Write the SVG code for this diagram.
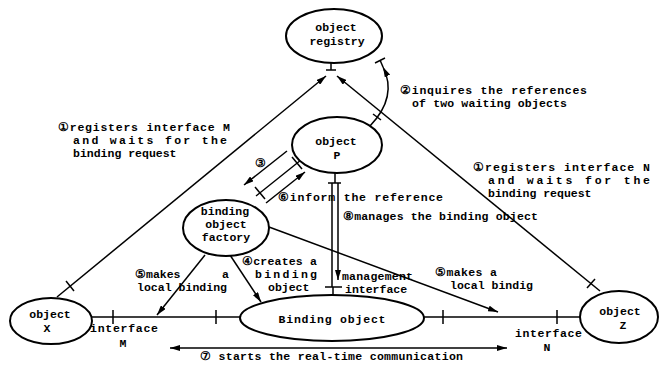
<svg xmlns="http://www.w3.org/2000/svg" width="659" height="365" viewBox="0 0 659 365">
<style>
text{font-family:"Liberation Mono","DejaVu Sans Mono",monospace;font-weight:bold;font-size:11.5px;fill:#000}
.c{text-anchor:middle}
.n{fill:#fff;stroke:#000;stroke-width:2}
.l{fill:none;stroke:#000;stroke-width:1.5}
.a{fill:none;stroke:#000;stroke-width:1.5;marker-end:url(#ah)}
</style>
<defs>
<marker id="ah" viewBox="0 0 10 6" refX="10" refY="3" markerWidth="10" markerHeight="6" orient="auto-start-reverse" markerUnits="userSpaceOnUse"><path d="M0,0 L10,3 L0,6 z" fill="#000"/></marker>
</defs>
<rect width="659" height="365" fill="#fff"/>
<g id="connectors">
<line class="a" x1="57" y1="297" x2="326" y2="76"/>
<line class="a" x1="600" y1="291" x2="337" y2="76"/>
<line class="l" x1="331" y1="63" x2="331" y2="70"/>
<line class="l" x1="326" y1="70" x2="336" y2="70"/>
<line class="l" x1="66" y1="281" x2="74" y2="291"/>
<line class="l" x1="595" y1="279" x2="587" y2="288"/>
<path class="a" d="M370,126 C390,105 392,85 383,67"/>
<line class="l" x1="383" y1="67" x2="380" y2="60"/>
<line class="l" x1="373" y1="114" x2="381" y2="120"/>
<line class="l" x1="375" y1="63" x2="385" y2="58"/>
<line class="l" x1="301" y1="160" x2="256" y2="196"/>
<line class="l" x1="292" y1="157" x2="302" y2="169"/>
<line class="l" x1="255" y1="187" x2="265" y2="199"/>
<line class="a" x1="287" y1="151" x2="244" y2="185"/>
<line class="a" x1="266" y1="203" x2="305" y2="172"/>
<line class="l" x1="335" y1="173" x2="335" y2="183"/>
<line class="l" x1="328" y1="183" x2="341" y2="183"/>
<line class="l" x1="332" y1="183" x2="332" y2="287"/>
<line class="a" x1="338" y1="183" x2="338" y2="280"/>
<line class="l" x1="325" y1="287" x2="342" y2="287"/>
<line class="l" x1="333" y1="287" x2="333" y2="295"/>
<line class="a" x1="230" y1="255" x2="261" y2="302"/>
<line class="a" x1="205" y1="255" x2="157" y2="315"/>
<line class="a" x1="269" y1="227" x2="498" y2="312"/>
<line class="l" x1="92" y1="317" x2="240" y2="317"/>
<line class="l" x1="424" y1="317" x2="580" y2="317"/>
<line class="l" x1="113" y1="310" x2="113" y2="324"/>
<line class="l" x1="216" y1="310" x2="216" y2="324"/>
<line class="l" x1="443" y1="310" x2="443" y2="324"/>
<line class="l" x1="557" y1="310" x2="557" y2="324"/>
<line class="l" x1="170" y1="348" x2="507" y2="348" marker-start="url(#ah)" marker-end="url(#ah)"/>
</g>
<g id="registry">
<ellipse class="n" cx="334" cy="36" rx="48" ry="27"/>
<text class="c" x="336" y="31">object</text>
<text class="c" x="337" y="45">registry</text>
</g>
<g id="objectP">
<ellipse class="n" cx="337" cy="145" rx="45" ry="28"/>
<text class="c" x="336" y="145">object</text>
<text class="c" x="337" y="159">P</text>
</g>
<g id="factory">
<ellipse class="n" cx="226" cy="228" rx="43" ry="28"/>
<text class="c" x="225" y="215">binding</text>
<text class="c" x="226" y="228">object</text>
<text class="c" x="226" y="241">factory</text>
</g>
<g id="objectX">
<ellipse class="n" cx="51" cy="321" rx="41" ry="23"/>
<text class="c" x="50" y="318">object</text>
<text class="c" x="47" y="332">X</text>
</g>
<g id="bindingObject">
<ellipse class="n" cx="332" cy="318" rx="92" ry="23"/>
<text class="c" x="332" y="323" textLength="107" lengthAdjust="spacing">Binding object</text>
</g>
<g id="objectZ">
<ellipse class="n" cx="619" cy="317" rx="39" ry="26"/>
<text class="c" x="620" y="315">object</text>
<text class="c" x="623" y="329">Z</text>
</g>
<g id="labels">
<text x="58" y="131" textLength="172" lengthAdjust="spacing">①registers interface M</text>
<text x="73" y="144" textLength="154" lengthAdjust="spacing">and  waits  for  the</text>
<text x="73" y="157">binding request</text>
<text x="473" y="171" textLength="177" lengthAdjust="spacing">①registers interface N</text>
<text x="488" y="184" textLength="162" lengthAdjust="spacing">and  waits  for  the</text>
<text x="488" y="197">binding request</text>
<text x="400" y="94" textLength="187" lengthAdjust="spacing">②inquires the references</text>
<text x="412" y="107" textLength="155" lengthAdjust="spacing">of two waiting objects</text>
<text class="c" x="260" y="167">③</text>
<text x="278" y="201" textLength="165" lengthAdjust="spacing">⑥inform the reference</text>
<text x="343" y="220" textLength="195" lengthAdjust="spacing">⑧manages the binding object</text>
<text x="135" y="278">⑤makes</text>
<text x="222" y="278">a</text>
<text x="137" y="291" textLength="90" lengthAdjust="spacing">local binding</text>
<text x="242" y="265" textLength="75" lengthAdjust="spacing">④creates a</text>
<text x="255" y="278" textLength="62" lengthAdjust="spacing">binding</text>
<text x="268" y="291">object</text>
<text x="342" y="280" textLength="71" lengthAdjust="spacing">management</text>
<text x="345" y="293">interface</text>
<text x="435" y="276" textLength="62" lengthAdjust="spacing">⑤makes a</text>
<text x="450" y="289" textLength="83" lengthAdjust="spacing">local bindig</text>
<text x="90" y="332" textLength="68" lengthAdjust="spacing">interface</text>
<text class="c" x="123" y="347">M</text>
<text x="515" y="337" textLength="67" lengthAdjust="spacing">interface</text>
<text class="c" x="547" y="351">N</text>
<text x="200" y="360" textLength="263" lengthAdjust="spacing">⑦ starts the real-time communication</text>
</g>
</svg>
